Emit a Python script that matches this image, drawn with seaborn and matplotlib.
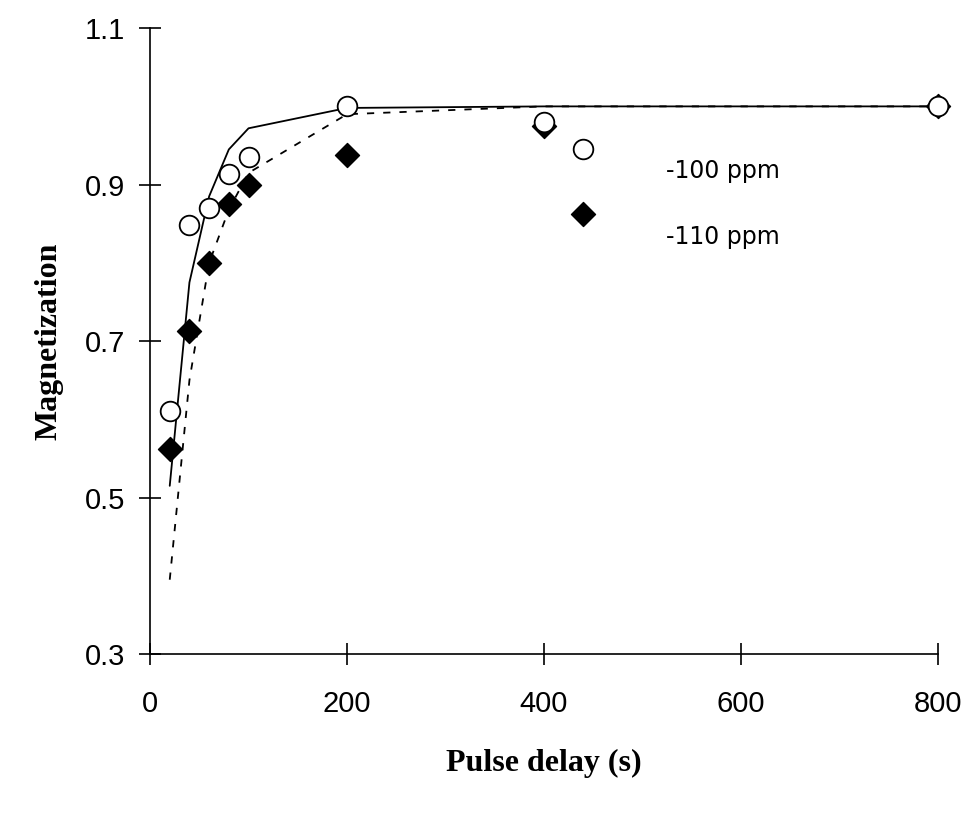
import matplotlib
matplotlib.use("Agg")
import matplotlib.pyplot as plt
import seaborn as sns
import pandas as pd

# measured points
delay = [20, 40, 60, 80, 100, 200, 400, 440, 800]
mag_100 = [0.61, 0.848, 0.870, 0.913, 0.935, 1.0, 0.980, 0.945, 1.0]
mag_110 = [0.562, 0.713, 0.800, 0.875, 0.900, 0.938, 0.975, 0.862, 1.0]

# fitted curves
fit_delay = [20, 40, 60, 80, 100, 200, 400, 800]
fit_100 = [0.515, 0.775, 0.885, 0.945, 0.972, 0.998, 1.0, 1.0]
fit_110 = [0.395, 0.65, 0.80, 0.868, 0.915, 0.99, 1.0, 1.0]

series_labels = ["-100 ppm", "-110 ppm"]
x_ticks = [0, 200, 400, 600, 800]
y_ticks = [0.3, 0.5, 0.7, 0.9, 1.1]

sns.set_style("ticks")
plt.rcParams["font.family"] = ["Liberation Sans", "DejaVu Sans"]
plt.rcParams["text.color"] = "black"
plt.rcParams["axes.labelcolor"] = "black"

fig = plt.figure(figsize=(9.68, 8.16), dpi=100)
ax = fig.add_axes([0.155, 0.1985, 0.814, 0.767])

fits = pd.DataFrame({"delay": fit_delay, "m100": fit_100, "m110": fit_110})
pts = pd.DataFrame({"delay": delay, "m100": mag_100, "m110": mag_110})

sns.lineplot(data=fits, x="delay", y="m100", ax=ax, color="black", lw=1.3)
sns.lineplot(data=fits, x="delay", y="m110", ax=ax, color="black", lw=1.3,
             linestyle=(0, (4, 5)))

sns.scatterplot(data=pts, x="delay", y="m110", ax=ax, marker="D", s=150,
                color="black", edgecolor="black", clip_on=False, zorder=3)
sns.scatterplot(data=pts, x="delay", y="m100", ax=ax, marker="o", s=200,
                facecolor="white", edgecolor="black", linewidth=1.3,
                clip_on=False, zorder=4)

ax.set_xlim(0, 800)
ax.set_ylim(0.3, 1.1)
ax.set_xticks(x_ticks)
ax.set_yticks(y_ticks)
ax.set_yticklabels([f"{v:.1f}" for v in y_ticks])
ax.tick_params(direction="inout", length=16, width=1.2, labelsize=21,
               colors="black")
ax.tick_params(axis="x", pad=18)
ax.tick_params(axis="y", pad=10)
sns.despine(ax=ax)
for sp in ["left", "bottom"]:
    ax.spines[sp].set_linewidth(1.2)
    ax.spines[sp].set_color("black")

ax.text(524, 0.918, series_labels[0], fontsize=17, va="center",
        family=["DejaVu Sans"])
ax.text(524, 0.833, series_labels[1], fontsize=17, va="center",
        family=["DejaVu Sans"])

ax.set_xlabel("Pulse delay (s)", fontsize=23, fontweight="bold",
              family=["Liberation Serif", "DejaVu Serif"], labelpad=22)
ax.set_ylabel("Magnetization", fontsize=23, fontweight="bold",
              family=["Liberation Serif", "DejaVu Serif"], labelpad=15)

fig.savefig("out.png", dpi=100)
